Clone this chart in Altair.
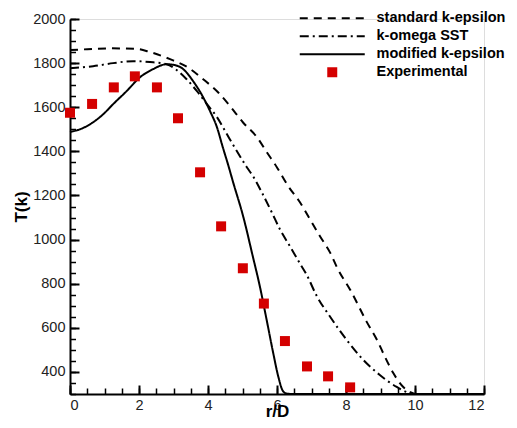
import altair as alt
import pandas as pd

# ---- data ----
models = ["standard k-epsilon", "k-omega SST", "modified k-epsilon"]

r_std = [0, 0.5, 1.16, 1.94, 2.32, 2.9, 3.42, 3.86, 4.29, 4.64, 5.01, 5.42, 5.71, 6.0, 6.33,
         6.67, 6.96, 7.25, 7.54, 7.77, 8.12, 8.6, 8.9, 9.13, 9.37, 9.66, 9.86, 10.0, 12.0]
T_std = [1859, 1863, 1867, 1864, 1850, 1818, 1780, 1727, 1668, 1605, 1532, 1464, 1395, 1327, 1241,
         1168, 1091, 1014, 941, 864, 773, 627, 545, 468, 395, 332, 309, 300, 300]

r_sst = [0, 0.67, 1.25, 1.83, 2.32, 2.8, 3.1, 3.38, 3.68, 3.97, 4.26, 4.55, 4.84, 5.13, 5.31,
         5.56, 5.85, 6.09, 6.38, 6.67, 6.86, 7.15, 7.54, 8.02, 8.5, 8.98, 9.47, 9.76, 10.0, 12.0]
T_sst = [1777, 1786, 1800, 1809, 1805, 1795, 1768, 1727, 1673, 1614, 1555, 1477, 1400, 1327, 1286,
         1214, 1123, 1045, 968, 890, 840, 745, 650, 545, 455, 386, 332, 309, 300, 300]

r_mod = [0, 0.29, 0.67, 0.96, 1.25, 1.64, 2.03, 2.41, 2.8, 3.04, 3.28, 3.57, 3.86, 4.06, 4.26,
         4.43, 4.58, 4.73, 5.02, 5.3, 5.5, 5.7, 5.89, 6.04, 6.17, 6.28, 6.5, 12.0]
T_mod = [1488, 1500, 1532, 1568, 1614, 1673, 1736, 1773, 1795, 1791, 1773, 1718, 1645, 1582, 1509,
         1418, 1341, 1259, 1105, 923, 790, 636, 486, 377, 314, 302, 300, 300]

r_exp = [0, 0.64, 1.27, 1.88, 2.52, 3.13, 3.77, 4.38, 5.01, 5.62, 6.23, 6.87, 7.48, 8.12]
T_exp = [1575, 1615, 1690, 1740, 1690, 1550, 1305, 1060, 870, 710, 540, 425, 380, 330]

x_major = [0, 2, 4, 6, 8, 10, 12]
x_minor = [i * 0.5 for i in range(25)]
y_major = [400, 600, 800, 1000, 1200, 1400, 1600, 1800, 2000]
y_minor = [300 + 50 * i for i in range(35)]

# ---- tables ----
rows = []
for name, rs, ts in zip(models, [r_std, r_sst, r_mod], [T_std, T_sst, T_mod]):
    for r, t in zip(rs, ts):
        rows.append({"r": r, "T": t, "model": name})
lines_df = pd.DataFrame(rows)
exp_df = pd.DataFrame({"r": r_exp, "T": T_exp, "data": ["Experimental"] * len(r_exp)})

FONT = "Liberation Sans"
xs = alt.Scale(domain=[0, 12], nice=False, zero=False)
ys = alt.Scale(domain=[300, 2000], nice=False, zero=False)

main_x = alt.Axis(values=x_major, orient="bottom", ticks=False, tickSize=0, grid=False, format="d",
                  domainColor="black", domainWidth=2, labelFont=FONT, labelFontSize=14.5,
                  labelColor="#222222", labelPadding=4, title="r/D", titleFont=FONT,
                  titleFontSize=17, titleFontWeight="bold", titleColor="black",
                  titleBaseline="alphabetic", titleY=22)
main_y = alt.Axis(values=y_major, orient="left", ticks=False, tickSize=0, grid=False, format="d",
                  domainColor="black", domainWidth=2, labelFont=FONT, labelFontSize=14.5,
                  labelColor="#222222", labelPadding=5, title="T(k)", titleFont=FONT,
                  titleFontSize=17, titleFontWeight="bold", titleColor="black",
                  titleBaseline="alphabetic", titleX=-44)

lines = alt.Chart(lines_df).mark_line(color="black", strokeWidth=2, interpolate="monotone").encode(
    x=alt.X("r:Q", scale=xs, axis=main_x),
    y=alt.Y("T:Q", scale=ys, axis=main_y),
    strokeDash=alt.StrokeDash(
        "model:N",
        scale=alt.Scale(domain=models, range=[[8, 6], [9, 4, 2, 4], [1, 0]]),
        legend=alt.Legend(title=None, orient="none", legendX=255, legendY=-8,
                          symbolType="M-6.5,0L6.5,0", symbolSize=100, symbolStrokeWidth=2,
                          symbolStrokeColor="black", labelFont=FONT, labelFontWeight="bold",
                          labelFontSize=14.5, labelColor="black", labelOffset=37,
                          labelLimit=0, rowPadding=3, padding=0),
    ),
)

points = alt.Chart(exp_df).mark_point(filled=True, size=100, color="#d40000", opacity=1).encode(
    x=alt.X("r:Q", scale=xs, axis=None),
    y=alt.Y("T:Q", scale=ys, axis=None),
    shape=alt.Shape(
        "data:N",
        scale=alt.Scale(domain=["Experimental"], range=["square"]),
        legend=alt.Legend(title=None, orient="none", legendX=255, legendY=46,
                          symbolSize=100, symbolFillColor="#d40000", symbolStrokeWidth=0,
                          labelFont=FONT, labelFontWeight="bold", labelFontSize=14.5,
                          labelColor="black", labelOffset=37, labelLimit=0, padding=0),
    ),
)

major_ticks = alt.Chart(exp_df).mark_point(opacity=0).encode(
    x=alt.X("r:Q", scale=xs, axis=alt.Axis(values=x_major, orient="bottom", offset=-9, tickSize=9,
                                             tickWidth=2, tickColor="black", domain=False,
                                             labels=False, grid=False, title=None)),
    y=alt.Y("T:Q", scale=ys, axis=alt.Axis(values=y_major, orient="left", offset=-9, tickSize=9,
                                             tickWidth=2, tickColor="black", domain=False,
                                             labels=False, grid=False, title=None)),
)

minor_ticks = alt.Chart(exp_df).mark_point(opacity=0).encode(
    x=alt.X("r:Q", scale=xs, axis=alt.Axis(values=x_minor, orient="bottom", offset=-6, tickSize=6,
                                             tickWidth=1.5, tickColor="black", domain=False,
                                             labels=False, grid=False, title=None)),
    y=alt.Y("T:Q", scale=ys, axis=alt.Axis(values=y_minor, orient="left", offset=-5.5, tickSize=5.5,
                                             tickWidth=1.5, tickColor="black", domain=False,
                                             labels=False, grid=False, title=None)),
)

chart = alt.layer(minor_ticks, major_ticks, lines, points).resolve_axis(
    x="independent", y="independent"
).resolve_legend(shape="independent", strokeDash="independent").properties(
    width=414, height=375,
    autosize=alt.AutoSizeParams(type="none"),
    padding={"left": 62, "top": 11, "right": 25, "bottom": 26},
).configure_view(stroke=None).configure(background="white")

chart.save("out.html", embed_options={"renderer": "svg", "actions": False})
